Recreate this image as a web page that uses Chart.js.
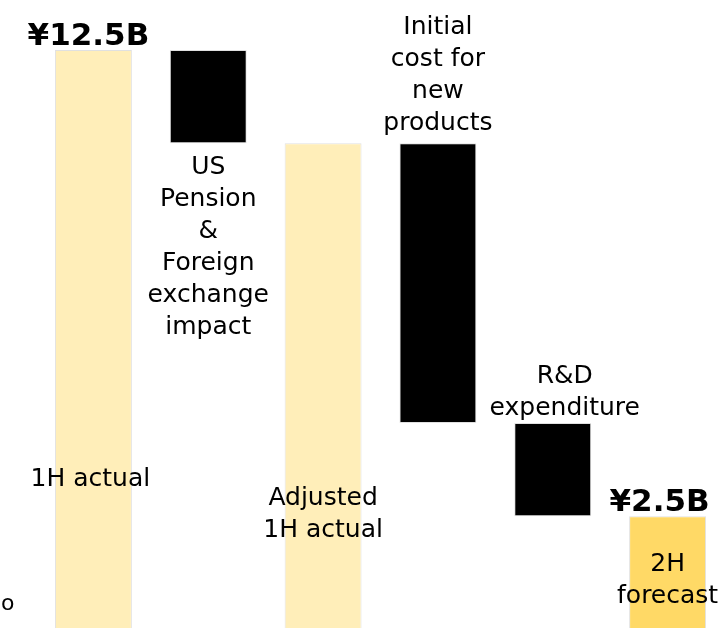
<!DOCTYPE html>
<html><head><meta charset="utf-8">
<script src="https://cdn.jsdelivr.net/npm/chart.js@4/dist/chart.umd.min.js"></script>
<style>html,body{margin:0;padding:0;background:#fff;overflow:hidden}#wrap{width:725px;height:628px}</style>
</head><body><div id="wrap"><canvas id="c" width="725" height="628"></canvas></div>
<script>
// ---- data ----
const categories = ['1H actual', 'US Pension & Foreign exchange impact', 'Adjusted 1H actual', 'Initial cost for new products', 'R&D expenditure', '2H forecast'];
const categoryLines = [['1H actual'], ['US', 'Pension', '&', 'Foreign', 'exchange', 'impact'], ['Adjusted', '1H actual'], ['Initial', 'cost for', 'new', 'products'], ['R&D', 'expenditure'], ['2H', 'forecast']];
const values = [12.5, -2.0, 10.5, -6.0, -2.0, 2.5];
const kinds = ['total', 'delta', 'total', 'delta', 'delta', 'total'];
const valueLabels = ['¥12.5B', '', '', '', '', '¥2.5B'];
const cornerText = 'o';

// ---- styling / layout (not data) ----
const barColors = ['#FFEEB9', '#000000', '#FFEEB9', '#000000', '#000000', '#FFD966'];
const labelPlacement = [
  {mode: 'inside', baseFromBottom: 142},
  {mode: 'below', gap: 31},
  {mode: 'inside', baseFromBottom: 123},
  {mode: 'above', gap: 13},
  {mode: 'above', gap: 8},
  {mode: 'inside', baseFromBottom: 57}
];
const labelDx = [-3, 0, 0, 0, 12, 0];
const valueDx = [-5, 0, 0, 0, 0, -8];
const lineH = 32;

// build floating ranges
const ranges = [];
let level = 0;
values.forEach((v, i) => {
  if (kinds[i] === 'total') { ranges.push([0, v]); level = v; }
  else { ranges.push([level + v, level]); level += v; }
});

const labelPlugin = {
  id: 'wfLabels',
  afterDatasetsDraw(chart) {
    const ctx = chart.ctx;
    const meta = chart.getDatasetMeta(0);
    const area = chart.chartArea;
    ctx.save();
    ctx.fillStyle = '#000';
    ctx.textAlign = 'center';
    ctx.textBaseline = 'alphabetic';
    meta.data.forEach((el, i) => {
      const top = Math.min(el.y, el.base);
      const bottom = Math.max(el.y, el.base);
      const cx = el.x;
      const lines = categoryLines[i];
      const p = labelPlacement[i];
      ctx.font = '25px "DejaVu Sans", Verdana, sans-serif';
      let baseYs = [];
      if (p.mode === 'above') {
        const last = top - p.gap;
        baseYs = lines.map((_, k) => last - lineH * (lines.length - 1 - k));
      } else if (p.mode === 'below') {
        const first = Math.min(bottom, area.bottom) + p.gap;
        baseYs = lines.map((_, k) => first + lineH * k);
      } else {
        const last = area.bottom - p.baseFromBottom;
        baseYs = lines.map((_, k) => last + lineH * k);
      }
      lines.forEach((t, k) => ctx.fillText(t, cx + labelDx[i], baseYs[k]));
      if (valueLabels[i]) {
        ctx.font = 'bold 31px "DejaVu Sans", Verdana, sans-serif';
        ctx.fillText(valueLabels[i], cx + valueDx[i], top - 5);
      }
    });
    ctx.font = '22px "DejaVu Sans", Verdana, sans-serif';
    ctx.textAlign = 'left';
    ctx.fillText(cornerText, 1, 610);
    ctx.restore();
  }
};

new Chart(document.getElementById('c'), {
  type: 'bar',
  data: {
    labels: categories,
    datasets: [{
      data: ranges,
      backgroundColor: barColors,
      borderColor: 'rgba(0,0,0,0.12)',
      borderWidth: 1,
      borderSkipped: false,
      barPercentage: 1,
      categoryPercentage: 0.67
    }]
  },
  options: {
    responsive: false,
    devicePixelRatio: 1,
    animation: false,
    layout: {padding: {top: 50, left: 36, right: 0, bottom: 0}},
    plugins: {legend: {display: false}, tooltip: {enabled: false}},
    scales: {
      x: {display: false},
      y: {display: false, min: 0.1, max: 12.5}
    }
  },
  plugins: [labelPlugin]
});
</script>
</body></html>
